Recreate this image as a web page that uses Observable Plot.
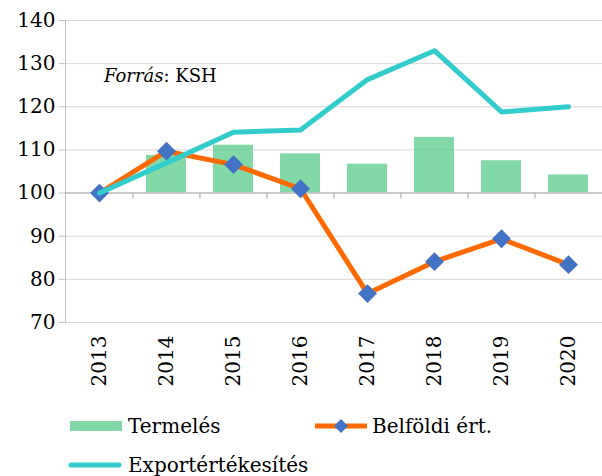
<!DOCTYPE html>
<html>
<head>
<meta charset="utf-8">
<script src="https://cdn.jsdelivr.net/npm/d3@7"></script>
<script src="https://cdn.jsdelivr.net/npm/@observablehq/plot@0.6"></script>
<style>
  html, body { margin: 0; padding: 0; background: #fff; }
  #wrap { position: relative; width: 602px; height: 476px; font-family: "DejaVu Serif", serif; color: #000; }
  .lg { position: absolute; font-size: 20px; line-height: 20px; white-space: nowrap; }
  #src { position: absolute; left: 104px; top: 65px; font-size: 18px; }
</style>
</head>
<body>
<div id="wrap"></div>
<script>
const years = ["2013", "2014", "2015", "2016", "2017", "2018", "2019", "2020"];
const termeles = [100, 108.7, 111.1, 109.1, 106.7, 112.9, 107.5, 104.2];
const belfoldi = [100, 109.7, 106.6, 101.0, 76.7, 84.1, 89.4, 83.4];
const exportErt = [100, 107.0, 114.1, 114.6, 126.3, 133.0, 118.8, 120.0];
const yTicks = [70, 80, 90, 100, 110, 120, 130, 140];
const seriesNames = ["Termelés", "Belföldi ért.", "Exportértékesítés"];
const colors = {bar: "#5acb8a", orange: "#ff6a00", blue: "#4472c4", cyan: "#33cccc"};

const data = years.map((y, i) => ({year: y, t: termeles[i], b: belfoldi[i], e: exportErt[i]}));

const W = 602, H = 400, ML = 65, MR = 0, MT = 20, MB = 78;
const step = (W - ML - MR) / years.length;

const chart = Plot.plot({
  width: W, height: H,
  marginLeft: ML, marginRight: MR, marginTop: MT, marginBottom: MB,
  style: {fontFamily: "DejaVu Serif", fontSize: "20px", background: "white", color: "black"},
  x: {domain: years, type: "band", paddingInner: 0.4, paddingOuter: 0.2, label: null},
  y: {domain: [70, 140], label: null},
  marks: [
    Plot.ruleY(yTicks, {stroke: "#d9d9d9", strokeWidth: 1}),
    Plot.frame({anchor: "left", stroke: "#bfbfbf"}),
    Plot.axisY(yTicks, {tickSize: 6, tickPadding: 4, stroke: "#bfbfbf", fill: "black", fontSize: 20, label: null}),
    Plot.axisX({tickSize: 0, tickPadding: 13, tickRotate: -90, fontSize: 20, fill: "black", label: null}),
    Plot.barY(data, {x: "year", y1: 100, y2: "t", fill: colors.bar, fillOpacity: 0.75}),
    Plot.ruleY([100], {stroke: "#bfbfbf", strokeWidth: 1.5}),
    Plot.ruleX(years.slice(1), {x: d => d, y1: 100, y2: 100, dx: -step / 2, insetTop: 0, insetBottom: -6, stroke: "#bfbfbf", strokeWidth: 1.5}),
    Plot.line(data, {x: "year", y: "b", stroke: colors.orange, strokeWidth: 5, strokeLinejoin: "round"}),
    Plot.dot(data, {x: "year", y: "b", symbol: "diamond2", r: 8.5, fill: colors.blue, stroke: "none"}),
    Plot.line(data, {x: "year", y: "e", stroke: colors.cyan, strokeWidth: 5, strokeLinecap: "round", strokeLinejoin: "round"})
  ]
});

const wrap = document.getElementById("wrap");
wrap.appendChild(chart);

const src = document.createElement("div");
src.id = "src";
src.innerHTML = "<i>Forrás</i>: KSH";
wrap.appendChild(src);

// Legend
function add(html, left, top) {
  const d = document.createElement("div");
  d.className = "lg";
  d.style.left = left + "px";
  d.style.top = top + "px";
  d.innerHTML = html;
  wrap.appendChild(d);
}
add(`<svg width="52" height="10" style="display:block"><rect width="52" height="10" fill="${colors.bar}" fill-opacity="0.75"/></svg>`, 70, 421);
add(seriesNames[0], 128, 416);
add(`<svg width="56" height="16" style="display:block"><line x1="2" y1="8" x2="54" y2="8" stroke="${colors.orange}" stroke-width="5"/><path d="M28,1 L35,8 L28,15 L21,8 Z" fill="${colors.blue}"/></svg>`, 313, 418);
add(seriesNames[1], 372, 416);
add(`<svg width="56" height="8" style="display:block"><line x1="3" y1="4" x2="51" y2="4" stroke="${colors.cyan}" stroke-width="5" stroke-linecap="round"/></svg>`, 68, 461);
add(seriesNames[2], 128, 455);
</script>
</body>
</html>
